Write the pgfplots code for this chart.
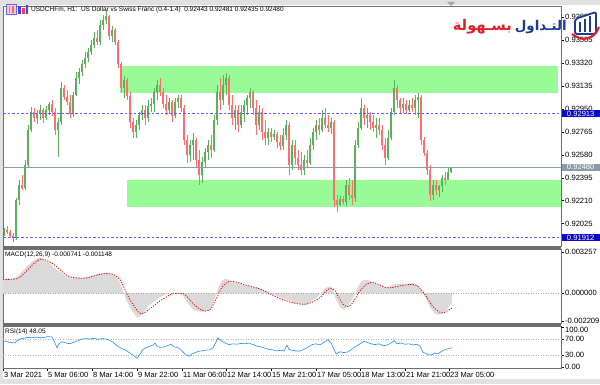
\documentclass[border=0pt]{standalone}
\usepackage{fontspec}
\setmainfont{Liberation Sans}
\newfontfamily\arabicfont[Script=Arabic]{DejaVu Sans}
\TeXXeTstate=1
\usepackage{graphicx}
\usepackage{pgfplots}
\usepackage{pgfplotstable}
\pgfplotsset{compat=1.18}

\definecolor{bull}{RGB}{92,176,92}
\definecolor{bear}{RGB}{255,110,110}
\definecolor{zone}{RGB}{152,251,152}
\definecolor{lvlblue}{RGB}{90,90,255}
\definecolor{bidgray}{RGB}{140,155,170}
\definecolor{boxblue}{RGB}{10,10,200}
\definecolor{macdgray}{RGB}{218,218,218}
\definecolor{rsiblue}{RGB}{30,144,255}
\definecolor{framegray}{RGB}{110,110,110}
\definecolor{chrome}{RGB}{225,225,225}
\definecolor{logoblue}{RGB}{28,58,150}
\definecolor{logored}{RGB}{226,30,40}

\newcommand\tfont{\fontsize{6.5}{7.5}\selectfont}
\newcommand\afont{\fontsize{7.6}{8.5}\selectfont}

\pgfplotstableread{
x o h l c
4 0.91958 0.91990 0.91926 0.91974
16 0.91910 0.92232 0.91894 0.92216
19 0.92216 0.92377 0.92176 0.92337
25 0.92313 0.92538 0.92297 0.92498
28 0.92498 0.92821 0.92474 0.92780
31 0.92780 0.92966 0.92764 0.92925
37 0.92877 0.92941 0.92829 0.92917
40 0.92917 0.92982 0.92861 0.92941
46 0.92877 0.92974 0.92861 0.92941
49 0.92941 0.93006 0.92901 0.92990
58 0.92780 0.92877 0.92563 0.92845
61 0.92845 0.93167 0.92821 0.93119
73 0.92909 0.93086 0.92885 0.93062
76 0.93062 0.93248 0.93054 0.93199
79 0.93199 0.93280 0.93151 0.93248
82 0.93248 0.93344 0.93215 0.93312
85 0.93312 0.93409 0.93280 0.93361
88 0.93361 0.93441 0.93328 0.93409
91 0.93409 0.93506 0.93385 0.93465
94 0.93465 0.93570 0.93441 0.93522
100 0.93490 0.93667 0.93465 0.93627
103 0.93627 0.93707 0.93586 0.93667
106 0.93667 0.93747 0.93635 0.93699
112 0.93538 0.93618 0.93490 0.93586
124 0.93119 0.93215 0.93038 0.93183
136 0.92764 0.92861 0.92716 0.92821
139 0.92821 0.92925 0.92780 0.92901
142 0.92901 0.92982 0.92861 0.92941
148 0.92877 0.93022 0.92845 0.92974
151 0.92974 0.93038 0.92925 0.92990
154 0.92990 0.93119 0.92925 0.93086
157 0.93086 0.93183 0.93022 0.93143
169 0.92941 0.93038 0.92909 0.93006
175 0.92893 0.93038 0.92877 0.93006
178 0.93006 0.93062 0.92958 0.93038
190 0.92579 0.92700 0.92522 0.92659
193 0.92659 0.92756 0.92538 0.92700
202 0.92418 0.92563 0.92353 0.92522
205 0.92522 0.92635 0.92474 0.92603
208 0.92603 0.92700 0.92538 0.92659
214 0.92619 0.92901 0.92603 0.92861
217 0.92861 0.93143 0.92821 0.93086
223 0.93022 0.93224 0.92982 0.93143
226 0.93143 0.93240 0.93062 0.93199
235 0.92877 0.92982 0.92780 0.92941
241 0.92821 0.92982 0.92796 0.92925
244 0.92925 0.93022 0.92845 0.92982
247 0.92982 0.93062 0.92901 0.93038
250 0.93038 0.93119 0.92958 0.93086
259 0.92821 0.92982 0.92780 0.92925
268 0.92716 0.92796 0.92659 0.92764
274 0.92724 0.92780 0.92700 0.92748
283 0.92651 0.92796 0.92619 0.92740
286 0.92740 0.92861 0.92700 0.92821
292 0.92498 0.92700 0.92458 0.92659
304 0.92458 0.92579 0.92418 0.92538
310 0.92514 0.92716 0.92498 0.92659
313 0.92659 0.92796 0.92619 0.92764
316 0.92764 0.92861 0.92700 0.92821
322 0.92780 0.92941 0.92764 0.92877
331 0.92796 0.92877 0.92748 0.92845
340 0.92176 0.92248 0.92168 0.92224
346 0.92200 0.92377 0.92168 0.92337
355 0.92232 0.92700 0.92200 0.92659
358 0.92659 0.92845 0.92635 0.92796
361 0.92796 0.93038 0.92780 0.92958
367 0.92877 0.92958 0.92796 0.92901
376 0.92796 0.92877 0.92716 0.92821
388 0.92555 0.92780 0.92538 0.92716
391 0.92716 0.92958 0.92700 0.92925
394 0.92925 0.93183 0.92901 0.93119
403 0.92958 0.93038 0.92917 0.92990
409 0.92941 0.93022 0.92925 0.92982
415 0.92958 0.93062 0.92901 0.93022
418 0.93022 0.93078 0.92877 0.93046
433 0.92256 0.92377 0.92216 0.92337
439 0.92297 0.92337 0.92240 0.92329
442 0.92329 0.92418 0.92281 0.92393
448 0.92377 0.92482 0.92377 0.92442
451 0.92443 0.92481 0.92435 0.92480
}\bulltab

\pgfplotstableread{
x o h l c
7 0.91974 0.92006 0.91942 0.91958
10 0.91958 0.91974 0.91910 0.91926
13 0.91926 0.91950 0.91877 0.91910
22 0.92337 0.92418 0.92297 0.92313
34 0.92925 0.92958 0.92845 0.92877
43 0.92941 0.92958 0.92837 0.92877
52 0.92990 0.93022 0.92893 0.92925
55 0.92925 0.92958 0.92740 0.92780
64 0.93119 0.93143 0.93022 0.93046
67 0.93046 0.93103 0.92982 0.93006
70 0.93006 0.93062 0.92877 0.92909
97 0.93522 0.93586 0.93465 0.93490
109 0.93699 0.93707 0.93506 0.93538
115 0.93586 0.93602 0.93465 0.93490
118 0.93490 0.93506 0.93280 0.93312
121 0.93312 0.93328 0.93086 0.93119
127 0.93183 0.93199 0.93022 0.93054
130 0.93054 0.93086 0.92796 0.92845
133 0.92845 0.92877 0.92716 0.92764
145 0.92941 0.92982 0.92821 0.92877
160 0.93143 0.93199 0.93054 0.93086
163 0.93086 0.93119 0.92958 0.92990
166 0.92990 0.93062 0.92901 0.92941
172 0.93006 0.93022 0.92845 0.92893
181 0.93038 0.93062 0.92925 0.92958
184 0.92958 0.92982 0.92659 0.92700
187 0.92700 0.92740 0.92514 0.92579
196 0.92700 0.92716 0.92474 0.92538
199 0.92538 0.92619 0.92337 0.92418
211 0.92659 0.92740 0.92555 0.92619
220 0.93086 0.93199 0.92941 0.93022
229 0.93199 0.93224 0.92941 0.92982
232 0.92982 0.93062 0.92821 0.92877
238 0.92941 0.92982 0.92764 0.92821
253 0.93086 0.93103 0.92901 0.92958
256 0.92958 0.93022 0.92740 0.92821
262 0.92925 0.92958 0.92700 0.92764
265 0.92764 0.92861 0.92659 0.92716
271 0.92764 0.92796 0.92684 0.92724
277 0.92748 0.92764 0.92635 0.92684
280 0.92684 0.92740 0.92619 0.92651
289 0.92821 0.92845 0.92418 0.92498
295 0.92659 0.92700 0.92498 0.92555
298 0.92555 0.92619 0.92458 0.92498
301 0.92498 0.92603 0.92418 0.92458
307 0.92538 0.92619 0.92474 0.92514
319 0.92821 0.92877 0.92740 0.92780
325 0.92877 0.92958 0.92796 0.92821
328 0.92821 0.92901 0.92764 0.92796
334 0.92845 0.92861 0.92160 0.92216
337 0.92216 0.92256 0.92119 0.92176
343 0.92224 0.92248 0.92176 0.92200
349 0.92337 0.92393 0.92216 0.92256
352 0.92256 0.92377 0.92176 0.92232
364 0.92958 0.92982 0.92821 0.92877
370 0.92901 0.92925 0.92780 0.92845
373 0.92845 0.92901 0.92764 0.92796
379 0.92821 0.92877 0.92740 0.92780
382 0.92780 0.92821 0.92619 0.92659
385 0.92659 0.92716 0.92498 0.92555
397 0.93119 0.93143 0.92958 0.93022
400 0.93022 0.93038 0.92909 0.92958
406 0.92990 0.93022 0.92909 0.92941
412 0.92982 0.93038 0.92925 0.92958
421 0.93046 0.93062 0.92659 0.92700
424 0.92700 0.92724 0.92571 0.92595
427 0.92595 0.92619 0.92418 0.92458
430 0.92458 0.92498 0.92208 0.92256
436 0.92337 0.92377 0.92256 0.92297
445 0.92393 0.92442 0.92337 0.92377
}\beartab

\pgfplotsset{
  panel/.style={
    scale only axis, xmin=3, xmax=561,
    axis line style={draw=framegray, line width=0.8pt},
    xtick=\empty, ytick pos=right, yticklabel pos=right,
    tick align=outside, major tick length=3pt,
    tick style={black, line width=0.5pt},
    yticklabel style={font=\afont, inner sep=1pt, text=black},
    /pgf/number format/assume math mode=true,
    scaled y ticks=false, clip=false,
  },
  wick/.style={draw=none, mark=none, forget plot,
    error bars/.cd, y dir=both, y explicit, error mark=none,
    error bar style={draw=#1, line width=0.7pt}},
  body/.style={draw=none, mark=none, forget plot,
    error bars/.cd, y dir=both, y explicit, error mark=none,
    error bar style={draw=#1, line width=2.2pt}},
}

\begin{document}
\begin{tikzpicture}[x=1pt,y=1pt]
\useasboundingbox (0,0) rectangle (600,384);
\fill[chrome] (0,0) rectangle (600,384);
\fill[white] (3,5) rectangle (600,379);
\fill[framegray] (3,135) rectangle (561,138);
\fill[framegray] (3,58) rectangle (561,61);

% ---------------- main price panel ----------------
\begin{axis}[panel, at={(3pt,138pt)}, anchor=south west, width=558pt, height=240pt,
  ymin=0.91845, ymax=0.93779,
  ytick={0.92025,0.92210,0.92395,0.92580,0.92765,0.92950,0.93135,0.93320,0.93505,0.93690},
  yticklabel style={/pgf/number format/fixed, /pgf/number format/fixed zerofill, /pgf/number format/precision=5}]
% support / resistance zones
\addplot[fill=zone, draw=none, forget plot] coordinates {(120,0.93296) (558,0.93296) (558,0.93081) (120,0.93081)};
\addplot[fill=zone, draw=none, forget plot] coordinates {(127,0.92377) (561,0.92377) (561,0.92162) (127,0.92162)};
% candles
\addplot[wick=bull] table[x=x, y expr={(\thisrow{h}+\thisrow{l})/2}, y error expr={(\thisrow{h}-\thisrow{l})/2}] {\bulltab};
\addplot[body=bull] table[x=x, y expr={(\thisrow{o}+\thisrow{c})/2}, y error expr={(\thisrow{c}-\thisrow{o})/2}] {\bulltab};
\addplot[wick=bear] table[x=x, y expr={(\thisrow{h}+\thisrow{l})/2}, y error expr={(\thisrow{h}-\thisrow{l})/2}] {\beartab};
\addplot[body=bear] table[x=x, y expr={(\thisrow{o}+\thisrow{c})/2}, y error expr={(\thisrow{o}-\thisrow{c})/2}] {\beartab};
% levels
\addplot[draw=lvlblue, color=lvlblue, line width=1.1pt, dash pattern=on 2.5pt off 2pt, forget plot] coordinates {(3,0.92913) (561,0.92913)};
\addplot[draw=lvlblue, color=lvlblue, line width=1.1pt, dash pattern=on 2.5pt off 2pt, forget plot] coordinates {(3,0.91912) (561,0.91912)};
\addplot[draw=bidgray, line width=0.6pt, forget plot] coordinates {(3,0.92480) (561,0.92480)};
\coordinate (b1) at (axis cs:561,0.92913);
\coordinate (b2) at (axis cs:561,0.92480);
\coordinate (b3) at (axis cs:561,0.91912);
\end{axis}

% ---------------- MACD panel ----------------
\begin{axis}[panel, at={(3pt,61pt)}, anchor=south west, width=558pt, height=74pt,
  ymin=-0.00234, ymax=0.00349,
  ytick={-0.002209,0,0.003257}, yticklabels={-0.002209,0.000000,0.003257}]
\addplot[fill=macdgray, draw=none] coordinates {
(3,0) (3,0.00113) (10,0.00110) (17,0.00130) (22,0.00170) (27,0.00210) (32,0.00250) (37,0.00275) (40,0.00280) (43,0.00270) (48,0.00245) (53,0.00210) (58,0.00180) (63,0.00150) (67,0.00130) (75,0.00120) (83,0.00120) (90,0.00135) (100,0.00155) (108,0.00160) (113,0.00150) (117,0.00120) (120,0.00080) (123,0.00020) (126,-0.00050) (130,-0.00110) (134,-0.00160) (137,-0.00190) (140,-0.00185) (144,-0.00150) (148,-0.00100) (153,-0.00070) (158,-0.00040) (163,-0.00020) (168,0.00000) (173,0.00005) (178,0.00000) (183,-0.00020) (187,-0.00070) (191,-0.00110) (195,-0.00135) (200,-0.00145) (205,-0.00145) (210,-0.00130) (213,-0.00080) (216,-0.00010) (219,0.00060) (222,0.00100) (225,0.00115) (229,0.00105) (235,0.00085) (242,0.00070) (250,0.00055) (258,0.00040) (265,0.00020) (270,0.00000) (277,-0.00020) (285,-0.00045) (293,-0.00070) (300,-0.00085) (307,-0.00090) (312,-0.00060) (317,-0.00030) (321,0.00000) (325,0.00040) (330,0.00055) (333,0.00030) (336,-0.00050) (340,-0.00110) (344,-0.00130) (348,-0.00100) (352,-0.00050) (356,0.00010) (359,0.00070) (363,0.00105) (367,0.00105) (372,0.00090) (378,0.00070) (385,0.00045) (390,0.00055) (395,0.00075) (400,0.00075) (407,0.00075) (413,0.00080) (418,0.00060) (422,0.00020) (426,-0.00040) (430,-0.00110) (434,-0.00155) (438,-0.00170) (442,-0.00160) (446,-0.00135) (450,-0.00095) (452,-0.00074) (452,0)};
\addplot[gray!70, line width=0.5pt, dash pattern=on 1pt off 1.5pt] coordinates {(3,0) (561,0)};
\addplot[red!90!black, line width=0.8pt, dash pattern=on 1.2pt off 1.4pt, smooth] coordinates {
(3,0.00110) (10,0.00110) (17,0.00115) (22,0.00140) (27,0.00180) (32,0.00220) (37,0.00255) (41,0.00270) (45,0.00265) (50,0.00245) (55,0.00220) (60,0.00185) (65,0.00150) (70,0.00130) (78,0.00120) (86,0.00120) (93,0.00135) (100,0.00150) (107,0.00155) (113,0.00150) (118,0.00125) (122,0.00080) (126,0.00010) (130,-0.00050) (134,-0.00100) (138,-0.00145) (141,-0.00160) (145,-0.00150) (150,-0.00120) (155,-0.00090) (160,-0.00060) (166,-0.00030) (172,-0.00005) (178,0.00000) (184,-0.00005) (188,-0.00035) (193,-0.00080) (198,-0.00115) (203,-0.00135) (207,-0.00140) (211,-0.00120) (215,-0.00060) (219,0.00000) (222,0.00050) (226,0.00080) (230,0.00095) (235,0.00090) (242,0.00075) (250,0.00055) (258,0.00040) (264,0.00020) (270,-0.00005) (277,-0.00030) (285,-0.00055) (293,-0.00075) (300,-0.00085) (306,-0.00085) (312,-0.00070) (318,-0.00045) (323,-0.00010) (327,0.00025) (331,0.00040) (335,0.00020) (339,-0.00035) (343,-0.00085) (347,-0.00105) (351,-0.00090) (355,-0.00045) (359,0.00010) (364,0.00055) (369,0.00080) (374,0.00085) (380,0.00065) (386,0.00045) (392,0.00045) (398,0.00055) (405,0.00065) (412,0.00070) (417,0.00060) (421,0.00030) (425,-0.00010) (429,-0.00060) (433,-0.00105) (437,-0.00135) (442,-0.00155) (447,-0.00140) (452,-0.00115)};
\end{axis}

% ---------------- RSI panel ----------------
\begin{axis}[panel, at={(3pt,16pt)}, anchor=south west, width=558pt, height=42pt,
  ymin=-2.5, ymax=102.5,
  ytick={0,30,70}, yticklabels={0.00,30.00,70.00},
  extra y ticks={100}, extra y tick labels={100.00},
  extra y tick style={yticklabel style={yshift=-2.5pt}},
  xtick={3,47,92,137,182,226,271,316,360,405,449},
  xticklabels={3 Mar 2021,5 Mar 06:00,8 Mar 14:00,9 Mar 22:00,11 Mar 06:00,12 Mar 14:00,15 Mar 21:00,17 Mar 05:00,18 Mar 13:00,21 Mar 21:00,23 Mar 05:00},
  xtick pos=bottom,
  xticklabel style={font=\fontsize{7.5}{8.5}\selectfont, anchor=north west, inner sep=1pt, text=black}]
\addplot[gray!60, line width=0.5pt, dash pattern=on 1pt off 1.5pt] coordinates {(3,70) (561,70)};
\addplot[gray!60, line width=0.5pt, dash pattern=on 1pt off 1.5pt] coordinates {(3,30) (561,30)};
\addplot[rsiblue, line width=0.6pt] coordinates {
(3,66) (6,64) (9,62) (12,61) (15,60) (17,66) (20,70) (24,72) (28,74) (32,73) (36,75) (40,73) (44,74) (48,76) (52,75) (55,60) (57,48) (59,58) (62,63) (66,60) (70,58) (74,62) (78,66) (82,70) (86,71) (90,70) (94,72) (98,69) (102,71) (106,70) (110,66) (113,62) (116,55) (119,50) (122,46) (125,43) (128,38) (131,33) (134,28) (137,22) (140,32) (143,44) (146,48) (150,52) (153,55) (155,60) (157,52) (160,49) (164,50) (168,54) (171,57) (174,50) (177,49) (180,45) (183,38) (186,30) (189,27) (192,33) (196,37) (200,40) (205,42) (210,43) (213,48) (216,62) (218,73) (221,66) (225,60) (229,56) (233,58) (237,57) (241,59) (245,58) (249,60) (253,56) (257,52) (261,50) (265,47) (269,44) (273,43) (277,40) (281,42) (284,40) (287,55) (289,44) (292,42) (296,40) (300,40) (304,44) (308,50) (312,56) (316,58) (320,55) (324,62) (328,68) (331,60) (334,45) (336,33) (340,38) (344,36) (348,38) (352,45) (356,52) (360,58) (364,64) (367,62) (371,58) (375,56) (379,58) (383,53) (387,55) (391,60) (394,66) (397,58) (401,60) (405,57) (409,58) (413,55) (417,57) (420,52) (423,37) (426,34) (429,30) (432,31) (435,35) (438,33) (441,38) (444,42) (447,45) (450,47) (452,48.05)};
\end{axis}

% price boxes on the scale
\node[fill=boxblue, text=white, font=\afont, anchor=west, inner xsep=2pt, inner ysep=1pt, minimum width=38pt] at ([xshift=0.5pt]b1) {0.92913};
\node[fill=bidgray, text=white, font=\afont, anchor=west, inner xsep=2pt, inner ysep=1pt, minimum width=38pt] at ([xshift=0.5pt]b2) {0.92480};
\node[fill=boxblue, text=white, font=\afont, anchor=west, inner xsep=2pt, inner ysep=1pt, minimum width=38pt] at ([xshift=0.5pt]b3) {0.91912};

% titles
\node[anchor=west, font=\tfont, inner sep=0pt] at (31,374) {USDCHFm, H1:\ \ US Dollar vs Swiss Franc (0.4-1.4)\ \ 0.92443 0.92481 0.92435 0.92480};
\node[anchor=west, font=\tfont, inner sep=0pt] at (5,129) {MACD(12,26,9) -0.000741 -0.001148};
\node[anchor=west, font=\tfont, inner sep=0pt] at (5,52) {RSI(14) 48.05};

% small window icons
\fill[red!20] (6,370) rectangle (16,380);
\draw[blue!60, line width=0.4pt] (6,370) rectangle (16,380);
\fill[red!60] (8.5,371) rectangle (10,378);
\fill[red!60] (12,371) rectangle (13.5,378);
\fill[blue!75] (18,370) rectangle (21,378);
\fill[red!75] (22,370) rectangle (25,376);
\fill[blue!75] (25.5,370) rectangle (28,379);
% shift marker
\fill[gray!70] (447,382) -- (455,382) -- (451,378) -- cycle;

% logo
\node[anchor=base east, inner sep=0pt, text=logoblue] at (567,353) {\resizebox{52pt}{!}{\arabicfont\bfseries\beginR التـداول\endR}};
\node[anchor=base east, inner sep=0pt, text=logored] at (512,353) {\resizebox{59pt}{!}{\arabicfont\bfseries\beginR بسـهولة\endR}};
\filldraw[draw=logoblue, line width=1.8pt, fill=white, rounded corners=2pt] (575,350) -- (575,365) -- (596,372) -- (596,350) -- cycle;
\fill[logoblue] (578.5,352) rectangle (581,362);
\fill[logoblue] (583.5,352) rectangle (586,365);
\fill[logoblue] (588.5,352) rectangle (591,368);
\draw[logored, line width=2.2pt] (572,350) .. controls (582,342) and (594,344) .. (599,357);
\end{tikzpicture}
\end{document}
